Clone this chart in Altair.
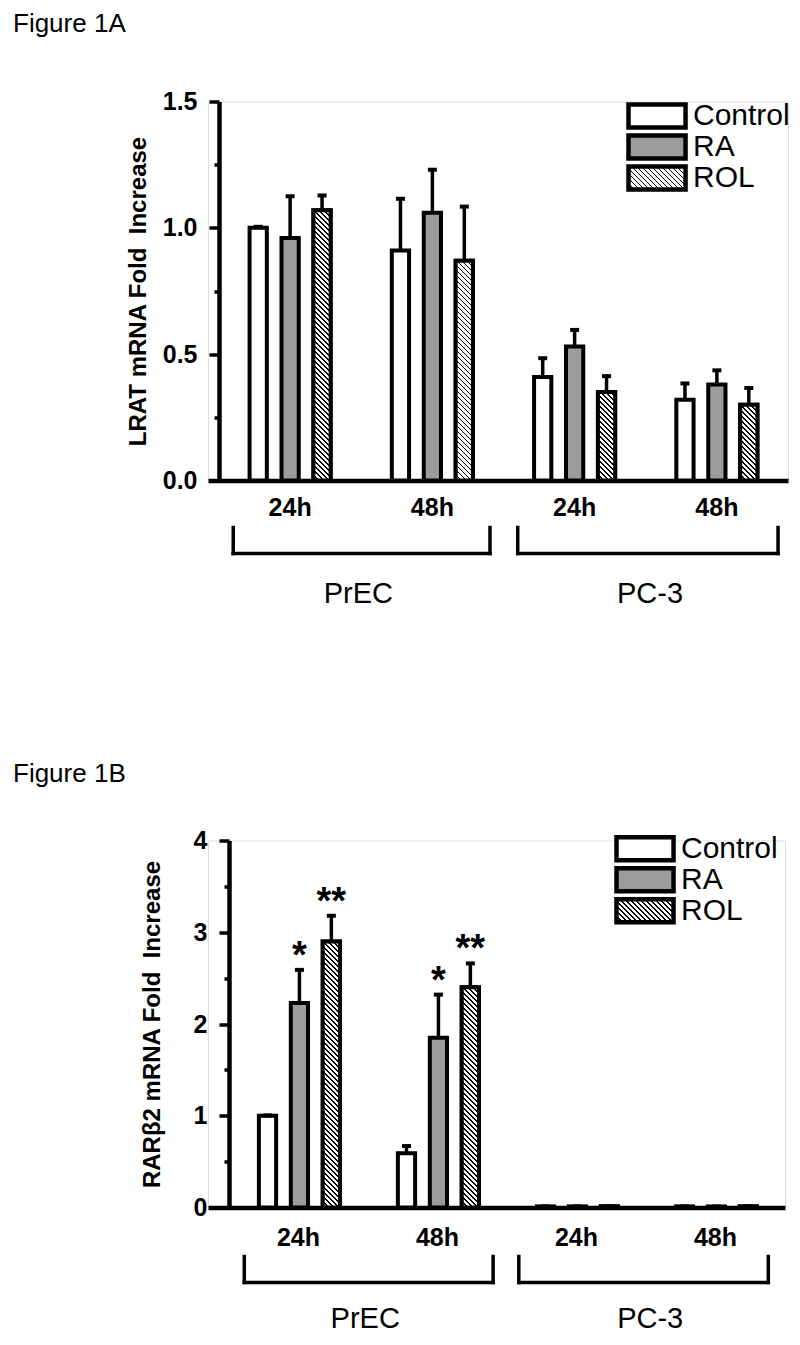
import altair as alt

FONT = "Liberation Sans"

# ---------------- data ----------------
groups = ["PrEC|24h", "PrEC|48h", "PC-3|24h", "PC-3|48h"]
treatments = ["Control", "RA", "ROL"]

# Figure 1A : LRAT mRNA fold increase (mean, +SD)
lrat_control = [1.00, 0.91, 0.41, 0.32]
lrat_control_err = [0.004, 0.205, 0.074, 0.064]
lrat_ra = [0.96, 1.06, 0.53, 0.38]
lrat_ra_err = [0.165, 0.17, 0.066, 0.056]
lrat_rol = [1.07, 0.87, 0.35, 0.30]
lrat_rol_err = [0.058, 0.214, 0.063, 0.066]

# Figure 1B : RARbeta2 mRNA fold increase (mean, +SD)
rar_control = [1.00, 0.59, 0.012, 0.012]
rar_control_err = [0.004, 0.08, 0.0, 0.0]
rar_ra = [2.23, 1.85, 0.012, 0.012]
rar_ra_err = [0.36, 0.47, 0.0, 0.0]
rar_rol = [2.90, 2.40, 0.012, 0.012]
rar_rol_err = [0.28, 0.26, 0.0, 0.0]
rar_sig_ra = ["*", "*", "", ""]
rar_sig_rol = ["**", "**", "", ""]

# cell-line brackets under the time labels (in group units, 0..4 from the y axis)
cell_lines = ["PrEC", "PC-3"]
bracket_a_start = [0.10, 2.10]
bracket_a_end = [1.905, 3.93]
bracket_b_start = [0.11, 2.085]
bracket_b_end = [1.90, 3.88]
cell_label_pos = [0.98, 3.03]


# ---------------- helpers ----------------
def hatch_gradient(w, h, period=5.0, line=1.8):
    """Diagonal '\\' hatch for a box of w x h pixels as a Vega linear gradient."""
    w = max(w, 0.5)
    h = max(h, 0.5)
    k = (w + h) / (w * w + h * h)
    total = w + h
    stops = []
    pos = 0.0
    first = True
    while pos < total:
        a = round(pos / total, 5)
        b = round(min((pos + line) / total, 1.0), 5)
        if not first:
            stops.append({"offset": a, "color": "white"})
        stops.append({"offset": a, "color": "black"})
        stops.append({"offset": b, "color": "black"})
        stops.append({"offset": b, "color": "white"})
        first = False
        pos += period
    stops.append({"offset": 1.0, "color": "white"})
    return {"gradient": "linear", "x1": 0, "y1": 1,
            "x2": round(k * w, 5), "y2": round(1 - k * h, 5), "stops": stops}


def to_expr(obj):
    if isinstance(obj, dict):
        return "{" + ",".join(f"{k}:{to_expr(v)}" for k, v in obj.items()) + "}"
    if isinstance(obj, list):
        return "[" + ",".join(to_expr(v) for v in obj) + "]"
    if isinstance(obj, str):
        return "'" + obj + "'"
    return repr(obj)


LEG_W, LEG_H = 57, 23
legend_path = "M-1,-1H3.96V1H-1Z"   # 57 x 23 px box, left edge on the symbol slot
legend_hatch = to_expr(hatch_gradient(LEG_W, LEG_H))

X_PAD_INNER = 0.43
OFF_PAD_INNER = 0.46
TITLE_DX = -195


def panel(series, sigs, ymax, yvals, ylabel_expr, major_test, ytitle, ytitle_pad,
          xlabel_pad, axis_off, step, height, legend_x, legend_y, legend_row_h,
          title_text, title_offset, br_start, br_end, br_top, br_bot, lab_y):
    # the x axis line starts axis_off px left of the y axis (as in the figure)
    width = axis_off + 4 * step
    total_outer = axis_off + step * X_PAD_INNER
    left_outer = axis_off + step * X_PAD_INNER / 2
    pad_outer = total_outer / (2 * step)
    band_align = left_outer / total_outer

    bw = step * (1 - X_PAD_INNER)
    bar_w = bw / (3 - OFF_PAD_INNER) * (1 - OFF_PAD_INNER)
    px_unit = height / ymax

    recs = []
    for t, (vals, errs) in zip(treatments, series):
        for i, g in enumerate(groups):
            r = {"group": g, "treat": t, "value": vals[i], "err": errs[i],
                 "top": vals[i] + errs[i]}
            if t == "ROL":
                r["grad"] = hatch_gradient(bar_w, vals[i] * px_unit)
            recs.append(r)
    data = alt.Data(values=recs)

    star_recs = []
    for t, s in sigs:
        vals, errs = series[treatments.index(t)]
        for i, g in enumerate(groups):
            if s[i]:
                star_recs.append({"group": g, "treat": t, "top": vals[i] + errs[i], "sig": s[i]})

    x_enc = alt.X("group:N", sort=groups,
                  scale=alt.Scale(domain=groups, paddingInner=X_PAD_INNER,
                                  paddingOuter=pad_outer, align=band_align),
                  axis=alt.Axis(title=None, labelExpr="split(datum.value, '|')[1]",
                                labelFont=FONT, labelFontSize=25, labelFontWeight="bold",
                                labelColor="black", labelPadding=xlabel_pad, labelAngle=0,
                                ticks=False, domainColor="black", domainWidth=4.5,
                                grid=False))
    off_enc = alt.XOffset("treat:N", sort=treatments,
                          scale=alt.Scale(domain=treatments, paddingInner=OFF_PAD_INNER,
                                          paddingOuter=0))
    y_scale = alt.Scale(domain=[0, ymax], nice=False, zero=True)
    y_enc = alt.Y("value:Q", scale=y_scale,
                  axis=alt.Axis(values=yvals, title=ytitle, titleFont=FONT,
                                titleFontSize=24, titleFontWeight="bold",
                                titleColor="black", titlePadding=ytitle_pad,
                                labelFont=FONT, labelFontSize=25, labelFontWeight="bold",
                                labelColor="black", labelExpr=ylabel_expr,
                                labelPadding=12, labelOverlap=False,
                                tickColor="black", tickWidth=3.5,
                                tickSize={"condition": {"test": major_test, "value": 10},
                                          "value": 5},
                                offset=-axis_off,
                                domainColor="black", domainWidth=4.5, grid=False))

    bars = alt.Chart(data).mark_bar(stroke="black", strokeWidth=4).encode(
        x=x_enc, xOffset=off_enc, y=y_enc,
        fill=alt.Fill("treat:N",
                      scale=alt.Scale(domain=treatments,
                                      range=["white", "#9c9c9c", {"expr": legend_hatch}]),
                      legend=alt.Legend(title=None, orient="none", legendX=legend_x,
                                        legendY=legend_y, direction="vertical",
                                        symbolType=legend_path, symbolSize=529,
                                        symbolStrokeColor="black", symbolStrokeWidth=4.5,
                                        labelFont=FONT, labelFontSize=30,
                                        labelColor="black", labelOffset=38,
                                        clipHeight=legend_row_h, rowPadding=0)),
    )
    hatch = alt.Chart(data).transform_filter("datum.treat === 'ROL'").mark_bar(
        stroke="black", strokeWidth=4).encode(
        x=alt.X("group:N", sort=groups), xOffset=alt.XOffset("treat:N", sort=treatments),
        y=alt.Y("value:Q"), fill=alt.Fill("grad:N", scale=None))
    err = alt.Chart(data).mark_rule(color="black", strokeWidth=3.5).encode(
        x=alt.X("group:N", sort=groups), xOffset=alt.XOffset("treat:N", sort=treatments),
        y=alt.Y("value:Q"), y2="top:Q")
    caps = alt.Chart(data).mark_tick(color="black", thickness=4, size=9, opacity=1).encode(
        x=alt.X("group:N", sort=groups), xOffset=alt.XOffset("treat:N", sort=treatments),
        y=alt.Y("top:Q"))
    layers = [bars, hatch, err, caps]
    if star_recs:
        stars = alt.Chart(alt.Data(values=star_recs)).mark_text(
            font=FONT, fontSize=38, fontWeight="bold", color="black",
            baseline="alphabetic", dy=-2).encode(
            x=alt.X("group:N", sort=groups),
            xOffset=alt.XOffset("treat:N", sort=treatments),
            y=alt.Y("top:Q"), text="sig:N")
        layers.append(stars)
    main = alt.layer(*layers)

    br_recs = [{"x0": a, "x1": b, "xm": m, "label": c}
               for a, b, m, c in zip(br_start, br_end, cell_label_pos, cell_lines)]
    bdata = alt.Data(values=br_recs)
    bx_scale = alt.Scale(domain=[-axis_off / step, 4], nice=False, zero=False)
    b_left = alt.Chart(bdata).mark_rule(color="black", strokeWidth=3.5, strokeCap="square").encode(
        x=alt.X("x0:Q", scale=bx_scale, axis=None),
        y=alt.value(height + br_top), y2=alt.value(height + br_bot))
    b_right = alt.Chart(bdata).mark_rule(color="black", strokeWidth=3.5, strokeCap="square").encode(
        x=alt.X("x1:Q", scale=bx_scale, axis=None),
        y=alt.value(height + br_top), y2=alt.value(height + br_bot))
    b_bottom = alt.Chart(bdata).mark_rule(color="black", strokeWidth=3.5, strokeCap="square").encode(
        x=alt.X("x0:Q", scale=bx_scale, axis=None), x2="x1:Q",
        y=alt.value(height + br_bot))
    b_text = alt.Chart(bdata).mark_text(font=FONT, fontSize=29, color="black",
                                        baseline="middle", align="center").encode(
        x=alt.X("xm:Q", scale=bx_scale, axis=None),
        y=alt.value(height + lab_y), text="label:N")
    brackets = alt.layer(b_left, b_right, b_bottom, b_text)

    return alt.layer(main, brackets).resolve_scale(x="independent").properties(
        width=width, height=height,
        title=alt.TitleParams(text=title_text, anchor="start", frame="group", dx=TITLE_DX,
                              offset=title_offset, font=FONT, fontSize=26,
                              fontWeight="normal", color="black"))


chart_a = panel(
    series=[(lrat_control, lrat_control_err), (lrat_ra, lrat_ra_err), (lrat_rol, lrat_rol_err)],
    sigs=[],
    ymax=1.5, yvals=[0, 0.25, 0.5, 0.75, 1.0, 1.25, 1.5],
    ylabel_expr="datum.value % 0.5 === 0 ? format(datum.value, '.1f') : ''",
    major_test="datum.value % 0.5 === 0",
    ytitle="LRAT mRNA Fold\u00a0 Increase", ytitle_pad=12, xlabel_pad=15,
    axis_off=11, step=142.25, height=379, legend_x=417, legend_y=-1, legend_row_h=31,
    title_text="Figure 1A", title_offset=53,
    br_start=bracket_a_start, br_end=bracket_a_end, br_top=47, br_bot=73, lab_y=113)

chart_b = panel(
    series=[(rar_control, rar_control_err), (rar_ra, rar_ra_err), (rar_rol, rar_rol_err)],
    sigs=[("RA", rar_sig_ra), ("ROL", rar_sig_rol)],
    ymax=4, yvals=[0, 0.5, 1, 1.5, 2, 2.5, 3, 3.5, 4],
    ylabel_expr="datum.value % 1 === 0 ? format(datum.value, 'd') : ''",
    major_test="datum.value % 1 === 0",
    ytitle="RAR\u03b22 mRNA Fold\u00a0 Increase", ytitle_pad=29, xlabel_pad=18,
    axis_off=21, step=139, height=367, legend_x=405, legend_y=-6, legend_row_h=28.5,
    title_text="Figure 1B", title_offset=42,
    br_start=bracket_b_start, br_end=bracket_b_end, br_top=49, br_bot=75, lab_y=111)

chart = alt.vconcat(chart_a, chart_b, spacing=150).resolve_scale(
    fill="independent").properties(
    padding={"left": 4, "top": 1.5, "right": 0, "bottom": 0}
).configure_view(stroke=None).configure(background="white")

chart.save("out.html", embed_options={"renderer": "svg", "actions": False})
